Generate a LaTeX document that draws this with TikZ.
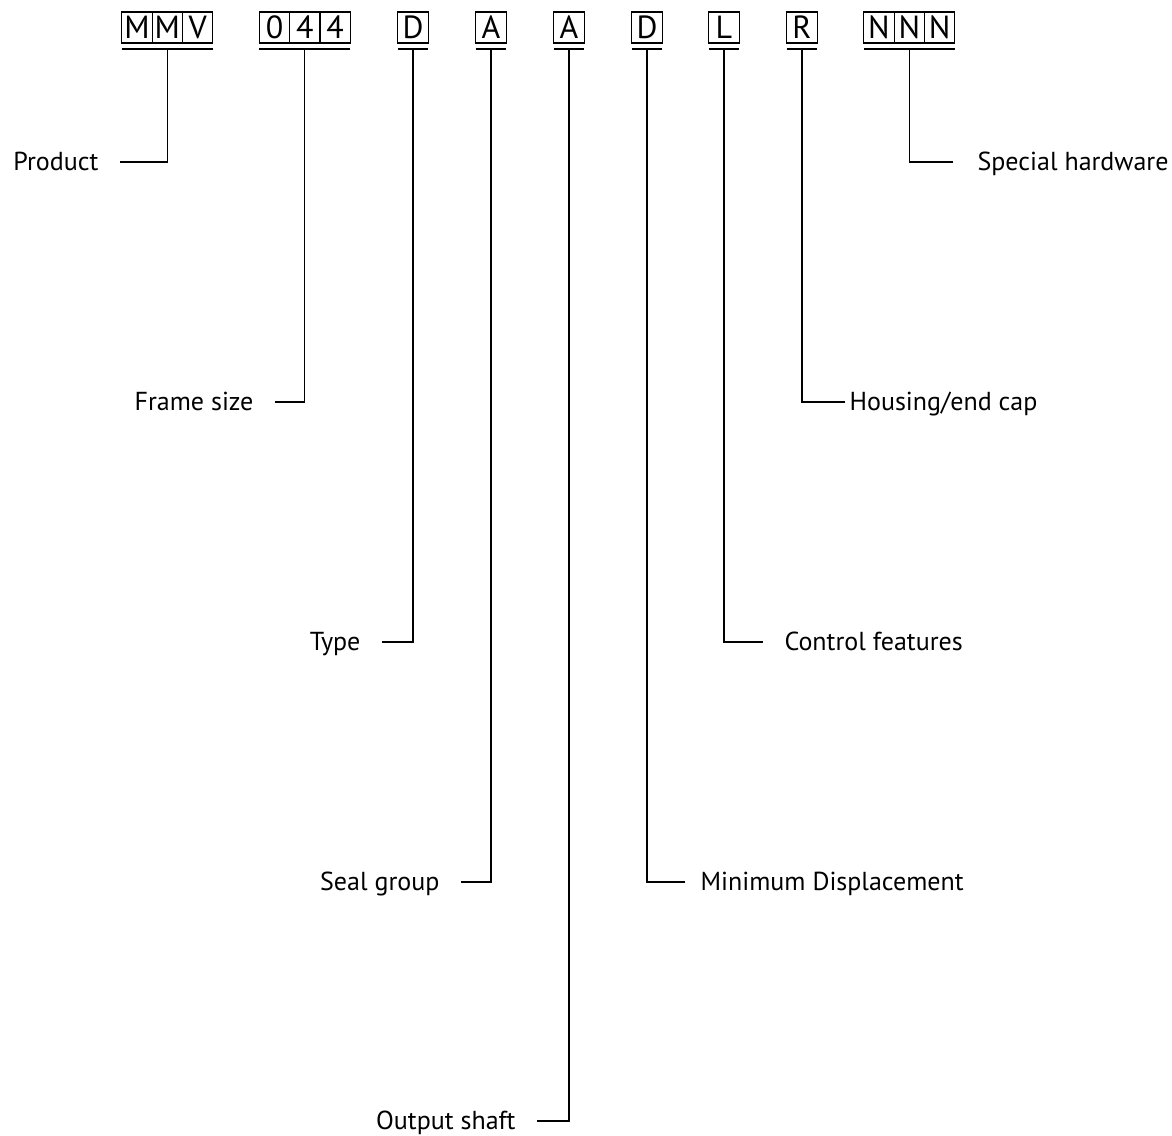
\documentclass[tikz,border=0pt]{standalone}
\usepackage{fontspec}
\setmainfont{PT Sans}
\usetikzlibrary{positioning}

\begin{document}
\begin{tikzpicture}[x=1pt, y=-1pt, line width=1.2pt,
    cell/.style={rectangle, draw, minimum width=30.3pt, minimum height=31pt,
        inner sep=0pt, outer sep=0pt, font=\fontsize{32}{32}\selectfont},
    lbl/.style={font=\fontsize{26}{26}\selectfont, inner ysep=0pt, inner xsep=21pt,
        text height=17.5pt, text depth=0pt}]
    \useasboundingbox (0,0) rectangle (1172,1135);

    % code boxes
    \node[cell] (m1) at (137,27.5) {M};
    \node[cell, right=0pt of m1] (m2) {M};
    \node[cell, right=0pt of m2] (m3) {V};
    \node[cell] (s1) at (274.5,27.5) {0};
    \node[cell, right=0pt of s1] (s2) {4};
    \node[cell, right=0pt of s2] (s3) {4};
    \node[cell] (ty) at (413,27.5) {D};
    \node[cell] (sg) at (491,27.5) {A};
    \node[cell] (os) at (569,27.5) {A};
    \node[cell] (md) at (647,27.5) {D};
    \node[cell] (cf) at (724,27.5) {L};
    \node[cell] (hc) at (802,27.5) {R};
    \node[cell] (n1) at (879,27.5) {N};
    \node[cell, right=0pt of n1] (n2) {N};
    \node[cell, right=0pt of n2] (n3) {N};

    % underlines
    \draw ([yshift=-6pt]m1.south west) -- ([yshift=-6pt]m3.south east);
    \draw ([yshift=-6pt]s1.south west) -- ([yshift=-6pt]s3.south east);
    \draw ([yshift=-6pt]ty.south west) -- ([yshift=-6pt]ty.south east);
    \draw ([yshift=-6pt]sg.south west) -- ([yshift=-6pt]sg.south east);
    \draw ([yshift=-6pt]os.south west) -- ([yshift=-6pt]os.south east);
    \draw ([yshift=-6pt]md.south west) -- ([yshift=-6pt]md.south east);
    \draw ([yshift=-6pt]cf.south west) -- ([yshift=-6pt]cf.south east);
    \draw ([yshift=-6pt]hc.south west) -- ([yshift=-6pt]hc.south east);
    \draw ([yshift=-6pt]n1.south west) -- ([yshift=-6pt]n3.south east);

    \coordinate (mmv) at ([yshift=-6pt]m2.south);
    \coordinate (size) at ([yshift=-6pt]s2.south);
    \coordinate (type) at ([yshift=-6pt]ty.south);
    \coordinate (seal) at ([yshift=-6pt]sg.south);
    \coordinate (shaft) at ([yshift=-6pt]os.south);
    \coordinate (mindisp) at ([yshift=-6pt]md.south);
    \coordinate (ctrl) at ([yshift=-6pt]cf.south);
    \coordinate (housing) at ([yshift=-6pt]hc.south);
    \coordinate (nnn) at ([yshift=-6pt]n2.south);

    % labels
    \node[lbl, anchor=east] (lproduct) at (120,162) {Product};
    \node[lbl, anchor=east] (lsize) at (275,402) {Frame size};
    \node[lbl, anchor=east] (ltype) at (382,642) {Type};
    \node[lbl, anchor=east] (lseal) at (461,882) {Seal group};
    \node[lbl, anchor=east] (lshaft) at (537,1121) {Output shaft};
    \node[lbl, anchor=west, inner xsep=24pt] (lspecial) at (953,162) {Special hardware};
    \node[lbl, anchor=west, inner xsep=4pt] (lhousing) at (845,402) {Housing/end cap};
    \node[lbl, anchor=west] (lctrl) at (763,642) {Control features};
    \node[lbl, anchor=west, inner xsep=15pt] (lmindisp) at (685,882) {Minimum Displacement};

    % connectors
    \draw (lproduct.east) -| (mmv);
    \draw (lsize.east) -| (size);
    \draw (ltype.east) -| (type);
    \draw (lseal.east) -| (seal);
    \draw (lshaft.east) -| (shaft);
    \draw (lspecial.west) -| (nnn);
    \draw (lhousing.west) -| (housing);
    \draw (lctrl.west) -| (ctrl);
    \draw (lmindisp.west) -| (mindisp);
\end{tikzpicture}
\end{document}
